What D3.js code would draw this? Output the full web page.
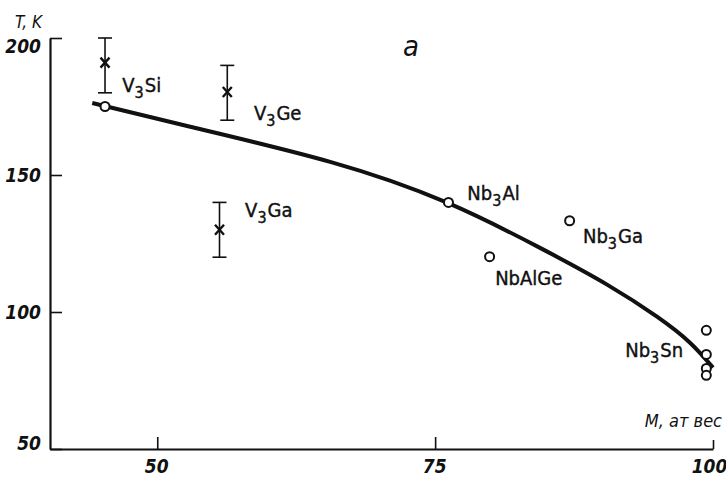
<!DOCTYPE html>
<html>
<head>
<meta charset="utf-8">
<script src="https://cdn.jsdelivr.net/npm/d3@7"></script>
<style>
  html, body { margin: 0; padding: 0; background: #fff; }
  svg { display: block; }
  .tick-label { font-family: "DejaVu Sans Condensed", "DejaVu Sans", sans-serif; font-style: oblique; font-weight: bold; font-size: 19px; fill: #111; }
  .compound { font-family: "DejaVu Sans Condensed", "DejaVu Sans", sans-serif; font-size: 20px; fill: #111; stroke: #111; stroke-width: 0.4; }
</style>
</head>
<body>
<div id="chart"></div>
<script>
// Tc versus atomic weight, A15 compounds
const xTicks = [50, 75, 100];
const yTicks = [50, 100, 150, 200];

// open circles (measured points)
const circleNames = ['V3Si', 'Nb3Al', 'NbAlGe', 'Nb3Ga', 'Nb3Sn', 'Nb3Sn', 'Nb3Sn', 'Nb3Sn'];
const circleM     = [45.3, 76.2, 79.9, 87.1, 99.4, 99.4, 99.4, 99.4];
const circleT     = [175, 140, 120.2, 133.3, 93.3, 84.5, 79.4, 76.9];

// crosses with error bars
const crossNames = ['V3Si', 'V3Ge', 'V3Ga'];
const crossM     = [45.3, 56.3, 55.6];
const crossT     = [191, 180.3, 130];
const crossLo    = [180, 170, 120];
const crossHi    = [200, 190, 140];

// fitted curve
const curveM = [44.15, 52.97, 65.56, 76.08, 84.44, 90.47, 94.96, 97.93, 100.0];
const curveT = [176.3, 167.6, 154.8, 139.9, 123.4, 110.0, 98.3, 88.8, 79.7];

// labels: [text before sub, subscript, text after, M, T at baseline]
const labelParts = [
  ['V', '3', 'Si', 46.85, 180.3],
  ['V', '3', 'Ge', 58.7, 170.1],
  ['V', '3', 'Ga', 57.9, 134.7],
  ['Nb', '3', 'Al', 77.9, 140.9],
  ['Nb', '3', 'Ga', 88.3, 125.2],
  ['NbAlGe', '', '', 80.4, 109.9],
  ['Nb', '3', 'Sn', 92.1, 83.6]
];

const W = 726, H = 477;
const svg = d3.select('#chart').append('svg')
  .attr('width', W).attr('height', H);

const x = d3.scaleLinear().domain([40.35, 100]).range([50, 713]);
const y = d3.scaleLinear().domain([50, 200]).range([449, 38]);

// axes
const xAxis = d3.axisBottom(x).tickValues(xTicks).tickSize(-12).tickSizeOuter(0).tickPadding(11);
const yAxis = d3.axisLeft(y).tickValues(yTicks).tickSize(-12).tickSizeOuter(0).tickPadding(9);

const gx = svg.append('g').attr('transform', `translate(0,${y(50)})`).call(xAxis);
const gy = svg.append('g').attr('transform', `translate(${x(40.35)},0)`).call(yAxis);

[gx, gy].forEach(g => {
  g.select('.domain').attr('stroke', '#111').attr('stroke-width', 2.2);
  g.selectAll('.tick line').attr('stroke', '#111').attr('stroke-width', 1.6);
  g.selectAll('.tick text').attr('class', 'tick-label').attr('font-family', null).attr('font-size', null);
});
gx.selectAll('.tick text').attr('dx', d => d === 100 ? -4 : -1);
gx.selectAll('.tick line').filter(d => d === 100).attr('y2', -9);
gy.selectAll('.tick text').attr('dy', d => d === 200 ? '0.75em' : d === 50 ? '0.0em' : '0.35em');

// axis titles
svg.append('text').attr('x', 15).attr('y', 28)
  .attr('class', 'tick-label').style('font-size', '17px').style('font-weight', 'normal')
  .text('T, K');
svg.append('text').attr('x', 722).attr('y', 427).attr('text-anchor', 'end')
  .attr('class', 'tick-label').style('font-size', '18px').style('font-weight', 'normal')
  .text('M, ат вес');
svg.append('text').attr('x', 403).attr('y', 56)
  .attr('class', 'tick-label').style('font-size', '29px').style('font-weight', 'normal')
  .text('а');

// curve
const line = d3.line()
  .x((d, i) => x(curveM[i]))
  .y((d, i) => y(curveT[i]))
  .curve(d3.curveNatural);
svg.append('path')
  .attr('d', line(curveM))
  .attr('fill', 'none').attr('stroke', '#111').attr('stroke-width', 4);

// error bars
const eb = svg.append('g').attr('stroke', '#111').attr('fill', 'none');
crossM.forEach((m, i) => {
  const cx = x(m);
  eb.append('line').attr('x1', cx).attr('x2', cx)
    .attr('y1', y(crossLo[i])).attr('y2', y(crossHi[i])).attr('stroke-width', 1.6);
  [crossLo[i], crossHi[i]].forEach(v => {
    eb.append('line').attr('x1', cx - 7).attr('x2', cx + 7)
      .attr('y1', y(v)).attr('y2', y(v)).attr('stroke-width', 1.6);
  });
  const cy = y(crossT[i]);
  eb.append('path')
    .attr('d', `M${cx - 4.5},${cy - 5}L${cx + 4.5},${cy + 5}M${cx + 4.5},${cy - 5}L${cx - 4.5},${cy + 5}`)
    .attr('stroke-width', 2.4);
});

// open circles
svg.append('g').selectAll('circle')
  .data(circleM)
  .join('circle')
  .attr('cx', d => x(d))
  .attr('cy', (d, i) => y(circleT[i]))
  .attr('r', 4.5)
  .attr('fill', '#fff').attr('stroke', '#111').attr('stroke-width', 2);

// compound labels
labelParts.forEach(p => {
  const t = svg.append('text').attr('class', 'compound')
    .attr('x', x(p[3])).attr('y', y(p[4]));
  t.append('tspan').text(p[0]);
  if (p[1]) {
    t.append('tspan').attr('dy', 6).style('font-size', '16px').text(p[1]);
    t.append('tspan').attr('dy', -6).attr('dx', 1).text(p[2]);
  }
});
</script>
</body>
</html>
